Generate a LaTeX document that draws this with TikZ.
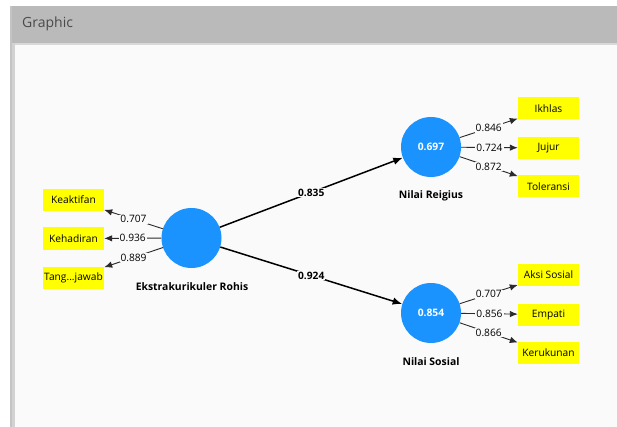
\documentclass[tikz,border=0pt]{standalone}
\usepackage{fontspec}
\setmainfont{Open Sans}
\usetikzlibrary{arrows.meta}
\definecolor{bgc}{HTML}{FAFAFA}
\definecolor{hdr}{HTML}{BABABA}
\definecolor{hdrline}{HTML}{D8D8D8}
\definecolor{strip}{HTML}{D2D2D2}
\definecolor{stripdark}{HTML}{C4C4C4}
\definecolor{lv}{HTML}{1A93FF}
\definecolor{ind}{HTML}{FFFF00}
\definecolor{hdrtext}{HTML}{4A4A4A}
\definecolor{lnk}{HTML}{2A2A2A}
\tikzset{
  latent/.style={circle,fill=lv,minimum size=60pt,inner sep=0pt,text=white,font=\fontsize{10.3}{12}\selectfont\bfseries},
  indicator/.style={rectangle,fill=ind,minimum width=61pt,minimum height=22pt,inner sep=0pt,font=\fontsize{10.2}{12}\selectfont},
  lvname/.style={font=\fontsize{10.4}{12}\selectfont\bfseries,inner sep=0pt},
  loadarrow/.style={draw=lnk,line width=0.9pt,-{Latex[length=8pt,width=6.5pt]}},
  patharrow/.style={draw=black,line width=1.5pt,-{Latex[length=9.5pt,width=7.5pt]}},
  loadlbl/.style={fill=bgc,inner sep=1pt,font=\fontsize{10.2}{12}\selectfont,pos=0.5},
  pathlbl/.style={fill=bgc,inner sep=1pt,font=\fontsize{10.2}{12}\selectfont\bfseries,pos=0.5}
}
\begin{document}
\begin{tikzpicture}[x=1pt,y=-1pt]
\useasboundingbox (0,0) rectangle (617,427);
\fill[white] (0,0) rectangle (617,427);
% content background
\fill[bgc] (10,43) rectangle (617,427);
% header
\fill[hdr] (10,6) rectangle (617,43);
\fill[hdrline] (15,43) rectangle (617,45);
% left strip
\fill[strip] (10,43) rectangle (15,427);
\fill[stripdark] (10,6) rectangle (11.5,427);
\node[anchor=west,text=hdrtext,font=\fontsize{14}{16}\selectfont,inner sep=0pt] (title) at (22,24) {Graphic};

% latent variables
\node[latent] (ekr) at (191.5,238) {};
\node[latent] (nr) at (431,147) {0.697};
\node[latent] (ns) at (431,313) {0.854};
\node[lvname] (ekrl) at (192,287) {Ekstrakurikuler Rohis};
\node[lvname] (nrl) at (431,196) {Nilai Reigius};
\node[lvname] (nsl) at (431,362) {Nilai Sosial};

% indicators
\node[indicator] (k1) at (73.5,200) {Keaktifan};
\node[indicator] (k2) at (73.5,238.5) {Kehadiran};
\node[indicator] (k3) at (73.5,277.5) {Tang...jawab};
\node[indicator] (r1) at (548.5,108.5) {Ikhlas};
\node[indicator] (r2) at (548.5,148) {Jujur};
\node[indicator] (r3) at (548.5,186.5) {Toleransi};
\node[indicator] (s1) at (548.5,275) {Aksi Sosial};
\node[indicator] (s2) at (548.5,314.5) {Empati};
\node[indicator] (s3) at (548.5,353) {Kerukunan};

% loadings
\draw[loadarrow] (ekr) -- node[loadlbl] {0.707} (k1);
\draw[loadarrow] (ekr) -- node[loadlbl] {0.936} (k2);
\draw[loadarrow] (ekr) -- node[loadlbl] {0.889} (k3);
\draw[loadarrow] (nr) -- node[loadlbl] {0.846} (r1);
\draw[loadarrow] (nr) -- node[loadlbl] {0.724} (r2);
\draw[loadarrow] (nr) -- node[loadlbl] {0.872} (r3);
\draw[loadarrow] (ns) -- node[loadlbl] {0.707} (s1);
\draw[loadarrow] (ns) -- node[loadlbl] {0.856} (s2);
\draw[loadarrow] (ns) -- node[loadlbl] {0.866} (s3);

% paths
\draw[patharrow] (ekr) -- node[pathlbl] {0.835} (nr);
\draw[patharrow] (ekr) -- node[pathlbl] {0.924} (ns);
\end{tikzpicture}
\end{document}
